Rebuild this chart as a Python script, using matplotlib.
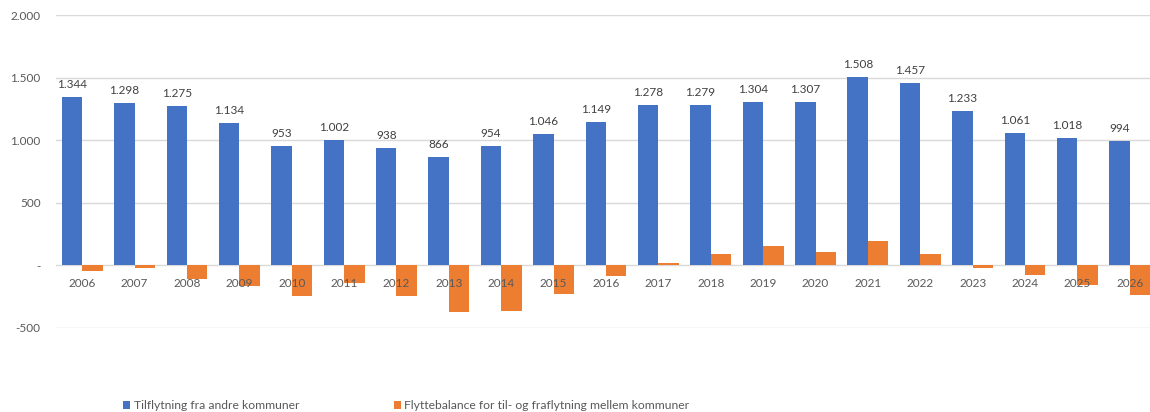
import matplotlib
matplotlib.use("Agg")
import matplotlib.pyplot as plt
import numpy as np
from matplotlib.ticker import FuncFormatter

plt.rcParams['font.family'] = ['Lato', 'DejaVu Sans']

years = [str(y) for y in range(2006, 2027)]
tilflytning = [1344, 1298, 1275, 1134, 953, 1002, 938, 866, 954, 1046, 1149,
               1278, 1279, 1304, 1307, 1508, 1457, 1233, 1061, 1018, 994]
flyttebalance = [-45, -20, -106, -165, -245, -144, -245, -372, -364, -226, -82,
                 20, 93, 154, 109, 191, 88, -20, -80, -154, -239]
yticks = [-500, 0, 500, 1000, 1500, 2000]

label_blue = "Tilflytning fra andre kommuner"
label_orange = "Flyttebalance for til- og fraflytning mellem kommuner"

BLUE = "#4472C4"
ORANGE = "#ED7D31"
GRID = "#D9D9D9"
TXT = "#595959"

fig = plt.figure(figsize=(11.5, 4.12), dpi=100)
ax = fig.add_axes([56/1150, 1-328/412, 1100/1150, (328-15)/412])

x = np.arange(len(years))
w = 0.39
for t in yticks:
    ax.axhline(t, color=GRID, linewidth=1, zorder=0)
b1 = ax.bar(x - w/2, tilflytning, w, color=BLUE, label=label_blue, zorder=1)
b2 = ax.bar(x + w/2, flyttebalance, w, color=ORANGE, label=label_orange, zorder=1)

def dk(v):
    v = int(round(v))
    if v == 0:
        return "-"
    s = f"{abs(v):,}".replace(",", ".")
    return ("-" if v < 0 else "") + s

for xi, v in zip(x, tilflytning):
    ax.annotate(dk(v), (xi - w/2, v), xytext=(0, 5), textcoords="offset points",
                ha="center", va="bottom", fontsize=8.5, color="#404040")

ax.set_ylim(-500, 2000)
ax.set_xlim(-0.5, len(years) - 0.5)
ax.set_yticks(yticks)
ax.yaxis.set_major_formatter(FuncFormatter(lambda v, p: dk(v)))
ax.set_xticks(x)
ax.set_xticklabels(years)
for s in ['top', 'right', 'left', 'bottom']:
    ax.spines[s].set_visible(False)
ax.tick_params(axis='x', length=0, pad=9, labelsize=8.5, labelcolor=TXT)
ax.tick_params(axis='y', length=0, pad=11, labelsize=8.5, labelcolor=TXT)
ax.spines['bottom'].set_position(('data', 0))
ax.xaxis.set_zorder(5)

fig.legend(handles=[b1, b2], loc='lower left', bbox_to_anchor=(112/1150, -0.025),
           ncol=2, frameon=False, fontsize=8.7, handlelength=0.6, handleheight=0.6,
           handletextpad=0.3, columnspacing=7.8, labelcolor=TXT)

fig.savefig("out.png", dpi=100)
